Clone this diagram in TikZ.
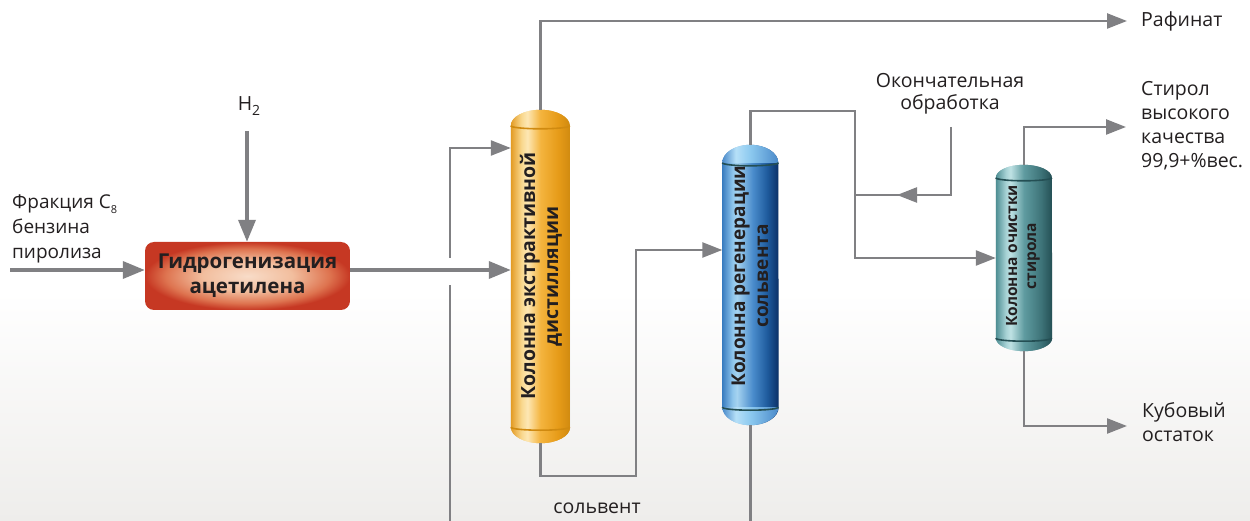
\documentclass[tikz,border=0pt]{standalone}
\usepackage{fontspec}
\setmainfont{Open Sans}
\usetikzlibrary{arrows.meta,calc}
\definecolor{ln}{HTML}{808083}
\definecolor{txt}{HTML}{231F20}
\definecolor{bgb}{HTML}{EEEDEB}
\definecolor{o1}{HTML}{E39B24}\definecolor{o2}{HTML}{F9D88E}\definecolor{o3}{HTML}{FDE7B4}
\definecolor{o4}{HTML}{F4B43E}\definecolor{o5}{HTML}{E69B18}\definecolor{o6}{HTML}{D08A10}
\definecolor{b1}{HTML}{3A7DC0}\definecolor{b2}{HTML}{8EC5EC}\definecolor{b3}{HTML}{A5D3F0}
\definecolor{b4}{HTML}{4A8CCC}\definecolor{b5}{HTML}{1E5A9C}\definecolor{b6}{HTML}{0A2F66}
\definecolor{bd2}{HTML}{B6E0F8}\definecolor{bd3}{HTML}{8CC9EF}\definecolor{bd4}{HTML}{4A8ACA}
\definecolor{t1}{HTML}{4E8E93}\definecolor{t2}{HTML}{A7D2D5}\definecolor{t3}{HTML}{BFE2E4}
\definecolor{t4}{HTML}{5F9BA0}\definecolor{t5}{HTML}{3E7479}\definecolor{t6}{HTML}{244F54}
\definecolor{r0}{HTML}{F8DCC8}\definecolor{r1}{HTML}{F2BE9E}\definecolor{r2}{HTML}{DE7450}\definecolor{r3}{HTML}{C63823}
\pgfdeclarehorizontalshading{orangeS}{100bp}{color(0bp)=(o1); color(25bp)=(o1); color(34bp)=(o2); color(39bp)=(o3); color(50bp)=(o4); color(65bp)=(o5); color(75bp)=(o6); color(100bp)=(o6)}
\pgfdeclarehorizontalshading{blueS}{100bp}{color(0bp)=(b1); color(25bp)=(b1); color(34bp)=(b2); color(38bp)=(b3); color(52bp)=(b4); color(65bp)=(b5); color(75bp)=(b6); color(100bp)=(b6)}
\pgfdeclarehorizontalshading{blueD}{100bp}{color(0bp)=(bd4); color(25bp)=(bd4); color(37bp)=(bd2); color(50bp)=(bd3); color(75bp)=(bd4); color(100bp)=(bd4)}
\pgfdeclarehorizontalshading{tealS}{100bp}{color(0bp)=(t1); color(25bp)=(t1); color(34bp)=(t2); color(38bp)=(t3); color(50bp)=(t4); color(65bp)=(t5); color(75bp)=(t6); color(100bp)=(t6)}
\pgfdeclareverticalshading{bgS}{100bp}{color(0bp)=(bgb); color(25bp)=(bgb); color(47bp)=(white); color(100bp)=(white)}
\pgfdeclareradialshading{reactS}{\pgfpoint{0bp}{0bp}}{color(0bp)=(r0); color(11bp)=(r1); color(20bp)=(r2); color(25bp)=(r3); color(50bp)=(r3)}
\pgfdeclarelayer{bg}\pgfdeclarelayer{cols}
\pgfsetlayers{bg,cols,main}
\tikzset{
  lbl/.style={text=txt, font=\fontsize{19.5}{24}\selectfont, inner sep=0pt},
  feed/.style={draw=ln, line width=3.6pt, -{Triangle[length=22pt,width=17pt]}},
  pipe/.style={draw=ln, line width=2.4pt},
  pipeA/.style={draw=ln, line width=2.4pt, -{Triangle[length=20pt,width=15pt]}},
  colbox/.style={inner sep=0pt, draw=none},
  coltext/.style={rotate=90, align=center, text=txt, inner sep=0pt},
  reactor/.style={rounded corners=9pt, minimum width=205pt, minimum height=68pt, shading=reactS,
     font=\bfseries\fontsize{20.5}{25}\selectfont, align=center, text=txt}
}
\newcommand\capsule[3]{($(#1.south west)+(0,#2pt)$) -- ($(#1.north west)+(0,-#2pt)$) arc[start angle=180,end angle=0,x radius=#3pt,y radius=#2pt] -- ($(#1.south east)+(0,#2pt)$) arc[start angle=0,end angle=-180,x radius=#3pt,y radius=#2pt] -- cycle}
\newcommand\vessel[6]{%
 \begin{pgfonlayer}{cols}
  \fill[black,opacity=.05] [xshift=4pt,yshift=-4pt] \capsule{#1}{#5}{#6};
  \fill[black,opacity=.05] [xshift=2pt,yshift=-2pt] \capsule{#1}{#5}{#6};
  \path[shading=#2] \capsule{#1}{#5}{#6};
  \path[shading=#3] ($(#1.north west)+(0,-#5pt)$) arc[start angle=180,end angle=0,x radius=#6pt,y radius=#5pt] -- cycle;
  \path[shading=#3] ($(#1.south west)+(0,#5pt)$) arc[start angle=180,end angle=360,x radius=#6pt,y radius=#5pt] -- cycle;
  \draw[#4, line width=1.6pt] ($(#1.north west)+(0,-#5pt)$) arc[start angle=180,end angle=360,x radius=#6pt,y radius=3pt];
  \draw[#4, line width=1.6pt] ($(#1.south west)+(0,#5pt)$) arc[start angle=180,end angle=360,x radius=#6pt,y radius=3pt];
 \end{pgfonlayer}}
\begin{document}
\begin{tikzpicture}[x=1pt,y=-1pt]
\useasboundingbox (0,0) rectangle (1250,521);
\begin{pgfonlayer}{bg}
\path[shading=bgS] (0,0) rectangle (1250,521);
\end{pgfonlayer}
% helper coordinates
\coordinate (y250) at (0,250);
\coordinate (y258) at (0,258);
% nodes
\node[reactor] (r) at (247.5,276) {Гидрогенизация\\ацетилена};
\node[lbl, anchor=north west, align=left, font=\fontsize{19}{25}\selectfont] (feedl) at (12,195) {Фракция C\raisebox{-0.45ex}{\fontsize{11}{11}\selectfont 8}\\бензина\\пиролиза};
\node[lbl] (h2) at (249,106) {H\raisebox{-0.55ex}{\fontsize{14}{14}\selectfont 2}};
\node[colbox, minimum width=59pt, minimum height=333pt] (c1) at (540.5,276.5) {};
\node[colbox, minimum width=56pt, minimum height=280pt] (c2) at (750.5,285) {};
\node[colbox, minimum width=56pt, minimum height=186pt] (c3) at (1024,258) {};
\vessel{c1}{orangeS}{orangeS}{o6}{16}{29.5}
\vessel{c2}{blueS}{blueD}{t6}{18}{28}
\vessel{c3}{tealS}{tealS}{t6}{13}{28}
\node[coltext, font=\bfseries\fontsize{19.5}{23}\selectfont] (c1t) at (541,276) {Колонна экстрактивной\\дистилляции};
\node[coltext, font=\bfseries\fontsize{19}{23}\selectfont] (c2t) at (750,276) {Колонна регенерации\\сольвента};
\node[coltext, font=\bfseries\fontsize{15.5}{19}\selectfont] (c3t) at (1023,256) {Колонна очистки\\стирола};
\node[lbl, anchor=west] (raf) at (1141,21) {Рафинат};
\node[lbl, align=center, font=\fontsize{19.5}{22}\selectfont] (fin) at (950,94) {Окончательная\\обработка};
\node[lbl, anchor=north west, align=left] (sty) at (1141,81) {Стирол\\высокого\\качества\\99,9+\%вес.};
\node[lbl, anchor=north west, align=left] (kub) at (1142,402) {Кубовый\\остаток};
\node[lbl] (solv) at (597,508) {сольвент};
% coordinates for connectors
\coordinate (fin0) at (10,270);
\coordinate (ro) at ([yshift=6pt]r.east);
\coordinate (h2s) at (247,131);
\coordinate (rb) at (450,530);
\coordinate (rg1) at (450,285);
\coordinate (rg2) at (450,258);
\coordinate (rt) at (450,148);
\coordinate (rafe) at (1127,21);
\coordinate (s1) at (636,476);
\coordinate (p1) at (855,111);
\coordinate (f1) at (951,127);
\coordinate (f2) at (855,195);
\coordinate (f3) at (897,195);
\coordinate (stye) at (1126,127);
\coordinate (kube) at (1127,426);
\coordinate (c2b) at (751,530);
% connectors
\draw[feed] (fin0) -- (fin0 -| r.west);
\draw[feed] (h2s) -- (h2s |- r.north);
\draw[feed] (ro) -- (ro -| c1.west);
\draw[pipe] (rb) -- (rg1);
\draw[pipeA] (rg2) -- (rt) -- (rt -| c1.west);
\draw[pipeA] (c1.north) |- (rafe);
\draw[pipeA] (c1.south) |- (s1) |- (c2.west |- y250);
\draw[pipeA] (c2.north) |- (p1) |- (c3.west |- y258);
\draw[pipe] (f1) |- (f2);
\draw[pipeA] (f1 |- f2) -- (f3);
\draw[pipe] (c2.south) -- (c2.south |- c2b);
\draw[pipeA] (c3.north) |- (stye);
\draw[pipeA] (c3.south) |- (kube);
\end{tikzpicture}
\end{document}
